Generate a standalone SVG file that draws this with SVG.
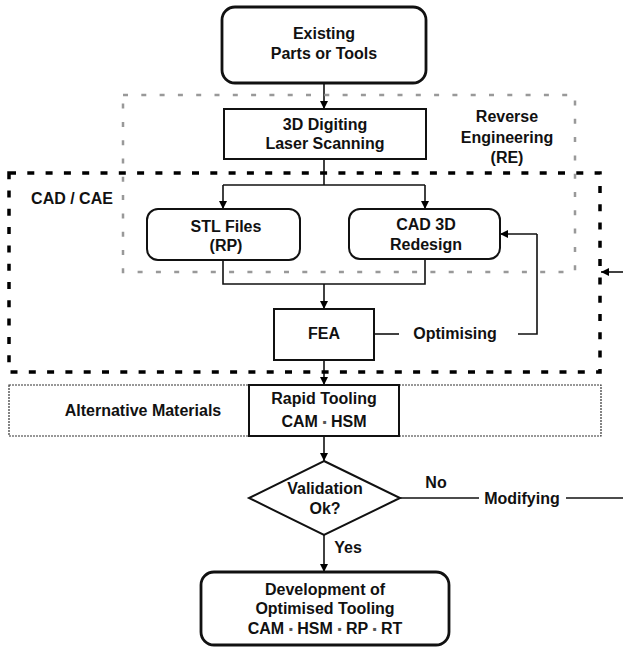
<svg xmlns="http://www.w3.org/2000/svg" width="623" height="648" viewBox="0 0 623 648">
<defs>
<marker id="arr" viewBox="0 0 10 10" refX="10" refY="5" markerWidth="9" markerHeight="8" markerUnits="userSpaceOnUse" orient="auto">
<path d="M0,0 L10,5 L0,10 z" fill="#000"/>
</marker>
<style>
text{font-family:"Liberation Sans",Arial,sans-serif;font-weight:bold;font-size:16px;fill:#111;text-anchor:middle}
.sep{font-size:12px;fill:#555}
.box{fill:#fff;stroke:#111;stroke-width:2}
.rbox{fill:#fff;stroke:#111;stroke-width:2.8}
.con{fill:none;stroke:#111;stroke-width:1.6}
.gray{fill:none;stroke:#999;stroke-width:2.5;stroke-dasharray:5 13.3}
.black{fill:none;stroke:#000;stroke-width:3.5;stroke-dasharray:7 11.3}
.dot{fill:none;stroke:#333;stroke-width:1.2;stroke-dasharray:2 1}
</style>
</defs>
<rect width="623" height="648" fill="#fff"/>

<g id="region-alt">
<rect class="dot" x="9" y="385" width="592" height="51"/>
<text x="143" y="416">Alternative Materials</text>
</g>

<g id="connectors">
<line class="con" x1="324" y1="83" x2="324" y2="109" marker-end="url(#arr)"/>
<polyline class="con" points="324,159 324,185"/>
<line class="con" x1="223" y1="185" x2="425" y2="185"/>
<line class="con" x1="223" y1="185" x2="223" y2="209" marker-end="url(#arr)"/>
<line class="con" x1="425" y1="185" x2="425" y2="209" marker-end="url(#arr)"/>
<polyline class="con" points="223,260 223,284 425,284 425,259"/>
<line class="con" x1="324" y1="284" x2="324" y2="309" marker-end="url(#arr)"/>
<line class="con" x1="374" y1="334" x2="399" y2="334"/>
<polyline class="con" points="518,334 537,334 537,234"/>
<line class="con" x1="537" y1="234" x2="500" y2="234" marker-end="url(#arr)"/>
<line class="con" x1="324" y1="360" x2="324" y2="385" marker-end="url(#arr)"/>
<line class="con" x1="324" y1="436" x2="324" y2="461" marker-end="url(#arr)"/>
<line class="con" x1="324" y1="535" x2="324" y2="572" marker-end="url(#arr)"/>
<line class="con" x1="400" y1="498" x2="479" y2="498"/>
<line class="con" x1="566" y1="498" x2="623" y2="498"/>
<line class="con" x1="623" y1="272" x2="601" y2="272" marker-end="url(#arr)"/>
</g>

<g id="region-re">
<rect class="gray" x="123" y="95" width="452" height="177"/>
<text x="507" y="122">Reverse</text>
<text x="507" y="143">Engineering</text>
<text x="507" y="163">(RE)</text>
</g>

<g id="region-cad">
<rect class="black" x="9" y="173" width="591" height="199"/>
<text x="72" y="204">CAD / CAE</text>
</g>

<g id="existing">
<rect class="rbox" x="222" y="7" width="204" height="76" rx="13"/>
<text x="324" y="39">Existing</text>
<text x="324" y="59">Parts or Tools</text>
</g>

<g id="digiting">
<rect class="box" x="224" y="109" width="202" height="50"/>
<text x="325" y="130">3D Digiting</text>
<text x="325" y="149">Laser Scanning</text>
</g>

<g id="stl">
<rect class="box" x="147" y="209" width="153" height="51" rx="11"/>
<text x="226" y="232">STL Files</text>
<text x="226" y="251">(RP)</text>
</g>

<g id="cad3d">
<rect class="box" x="349" y="209" width="151" height="50" rx="11"/>
<text x="426" y="230">CAD 3D</text>
<text x="426" y="250">Redesign</text>
</g>

<g id="fea">
<rect class="box" x="274" y="309" width="100" height="51"/>
<text x="324" y="339">FEA</text>
</g>
<text x="455" y="339">Optimising</text>

<g id="rapid">
<rect class="box" x="249" y="385" width="150" height="51"/>
<text x="324" y="404">Rapid Tooling</text>
<text x="324" y="427">CAM <tspan class="sep" dy="-1">▪</tspan><tspan dy="1"> HSM</tspan></text>
</g>

<g id="validation">
<polygon class="box" points="324,461 400,498 324,535 249,498"/>
<text x="325" y="494">Validation</text>
<text x="325" y="514">Ok?</text>
</g>
<text x="436" y="488">No</text>
<text x="522" y="504">Modifying</text>
<text x="348" y="553">Yes</text>

<g id="development">
<rect class="rbox" x="201" y="572" width="248" height="73" rx="13"/>
<text x="325" y="595">Development of</text>
<text x="325" y="614">Optimised Tooling</text>
<text x="325" y="634">CAM <tspan class="sep" dy="-1">▪</tspan><tspan dy="1"> HSM </tspan><tspan class="sep" dy="-1">▪</tspan><tspan dy="1"> RP </tspan><tspan class="sep" dy="-1">▪</tspan><tspan dy="1"> RT</tspan></text>
</g>
</svg>
